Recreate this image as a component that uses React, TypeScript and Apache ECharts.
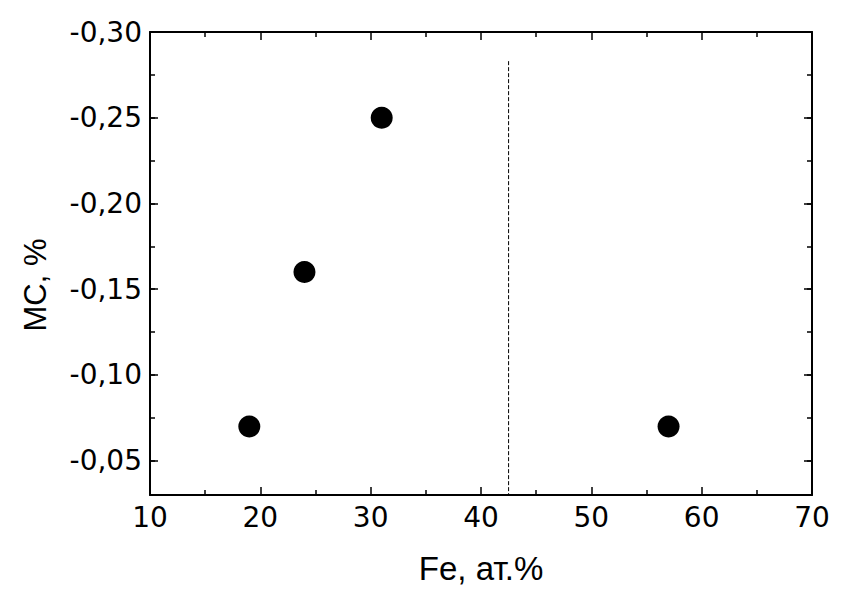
import React, { useEffect, useRef } from "react";
import * as echarts from "echarts";

const feX: number[] = [19, 24, 31, 57];
const mcY: number[] = [-0.07, -0.16, -0.25, -0.07];
const dashX: number[] = [42.5, 42.5];
const dashY: number[] = [-0.283, -0.03];
const xTitle = "Fe, ат.%";
const yTitle = "МС, %";

const FONT = "DejaVu Sans";
const TFONT = "Liberation Sans";

function fmtY(v: number): string {
  const k = Math.round(v / 0.05);
  if (Math.abs(v - k * 0.05) > 1e-9) return "";
  return v.toFixed(2).replace(".", ",");
}

export default function App() {
  const ref = useRef<HTMLDivElement>(null);
  useEffect(() => {
    if (!ref.current) return;
    const chart = echarts.init(ref.current, undefined, { renderer: "svg" });
    const lineStyle = { color: "#000", width: 2 };
    const tickStyle = { color: "#000", width: 1.5 };
    const baseY = {
      type: "value" as const,
      inverse: true,
      min: -0.3,
      max: -0.03,
      splitLine: { show: false },
    };
    chart.setOption({
      animation: false,
      backgroundColor: "#fff",
      grid: { left: 150, right: 30, top: 32, bottom: 99, containLabel: false },
      graphic: [
        {
          type: "text",
          x: 35,
          y: 285,
          rotation: Math.PI / 2,
          style: {
            text: yTitle,
            fill: "#000",
            font: `31px "${TFONT}"`,
            textAlign: "center",
            textVerticalAlign: "middle",
          },
        },
      ],
      xAxis: [
        {
          type: "value",
          position: "bottom",
          min: 10,
          max: 70,
          interval: 10,
          axisLine: { show: true, lineStyle },
          axisTick: { show: true, inside: true, length: 8, lineStyle: tickStyle },
          minorTick: { show: true, splitNumber: 2, length: 5, lineStyle: tickStyle },
          axisLabel: { show: true, color: "#000", fontFamily: FONT, fontSize: 28, margin: 8 },
          splitLine: { show: false },
          minorSplitLine: { show: false },
          name: xTitle,
          nameLocation: "middle",
          nameGap: 57,
          nameTextStyle: { color: "#000", fontFamily: TFONT, fontSize: 33 },
        },
        {
          type: "value",
          position: "top",
          min: 10,
          max: 70,
          interval: 10,
          axisLine: { show: true, lineStyle },
          axisTick: { show: true, inside: true, length: 8, lineStyle: tickStyle },
          minorTick: { show: true, splitNumber: 2, length: 5, lineStyle: tickStyle },
          axisLabel: { show: false },
          splitLine: { show: false },
        },
      ],
      yAxis: [
        {
          ...baseY,
          position: "left",
          interval: 0.05,
          axisLine: { show: true, lineStyle },
          axisTick: { show: true, inside: true, length: 8, lineStyle: tickStyle },
          axisLabel: { show: true, color: "#000", fontFamily: FONT, fontSize: 28, margin: 8, formatter: fmtY },
        },
        {
          ...baseY,
          position: "left",
          interval: 0.025,
          axisLine: { show: false },
          axisTick: { show: true, inside: true, length: 5, lineStyle: tickStyle },
          axisLabel: { show: false },
        },
        {
          ...baseY,
          position: "right",
          interval: 0.05,
          axisLine: { show: true, lineStyle },
          axisTick: { show: true, inside: true, length: 8, lineStyle: tickStyle },
          axisLabel: { show: false },
        },
        {
          ...baseY,
          position: "right",
          interval: 0.025,
          axisLine: { show: false },
          axisTick: { show: true, inside: true, length: 5, lineStyle: tickStyle },
          axisLabel: { show: false },
        },
      ],
      series: [
        {
          type: "scatter",
          xAxisIndex: 0,
          yAxisIndex: 0,
          symbol: "circle",
          symbolSize: 22,
          itemStyle: { color: "#000", opacity: 1 },
          data: feX.map((x, i) => [x, mcY[i]]),
        },
        {
          type: "line",
          xAxisIndex: 0,
          yAxisIndex: 0,
          symbol: "none",
          lineStyle: { color: "#000", width: 1, type: [4, 2] },
          data: dashX.map((x, i) => [x, dashY[i]]),
        },
      ],
    });
    return () => chart.dispose();
  }, []);
  return (
    <div
      ref={ref}
      style={{ position: "fixed", left: 0, top: 0, width: 842, height: 594 }}
    />
  );
}
